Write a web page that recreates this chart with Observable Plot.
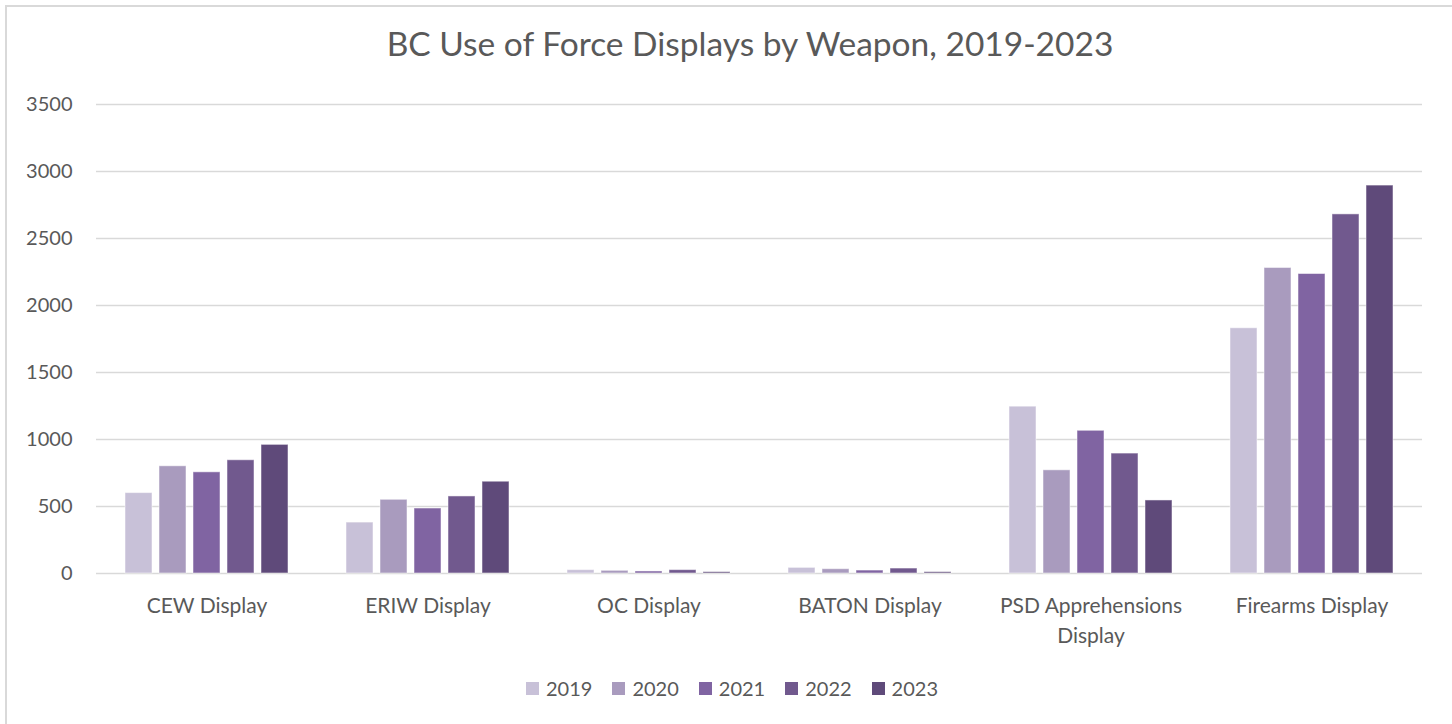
<!DOCTYPE html>
<html>
<head>
<meta charset="utf-8">
<script src="https://cdn.jsdelivr.net/npm/d3@7"></script>
<script src="https://cdn.jsdelivr.net/npm/@observablehq/plot@0.6"></script>
<style>
  html, body { margin: 0; padding: 0; background: #fff; }
  #wrap { position: relative; width: 1452px; height: 724px; overflow: hidden; font-family: Lato, "Open Sans", sans-serif; color: #595959; }
  #frame { position: absolute; left: 5px; top: 5px; width: 1450px; height: 740px; border: 2px solid #d9d9d9; box-sizing: border-box; }
  #title { position: absolute; left: 0; width: 1500px; top: 26px; text-align: center; font-size: 33.5px; line-height: 34px; color: #595959; white-space: nowrap; }
  #chart { position: absolute; left: 0; top: 0; }
  #legend { position: absolute; left: 0; width: 1452px; top: 676px; display: flex; justify-content: center; font-size: 20px; line-height: 24px; padding-left: 12px; box-sizing: border-box; }
  .item { display: flex; align-items: center; margin: 0 10px; }
  .sw { width: 13px; height: 13px; margin-right: 7px; }
</style>
</head>
<body>
<div id="wrap">
  <div id="frame"></div>
  <div id="chart"></div>
  <div id="title">BC Use of Force Displays by Weapon, 2019-2023</div>
  <div id="legend"></div>
</div>
<script>
const categories = ["CEW Display", "ERIW Display", "OC Display", "BATON Display", "PSD Apprehensions Display", "Firearms Display"];
const years = ["2019", "2020", "2021", "2022", "2023"];
const colors = ["#c8c1d8", "#a99bbe", "#8064a2", "#71598e", "#5f4a7a"];
const values2019 = [600, 380, 25, 42, 1245, 1830];
const values2020 = [800, 550, 20, 32, 770, 2280];
const values2021 = [755, 485, 15, 22, 1065, 2235];
const values2022 = [845, 575, 25, 37, 895, 2680];
const values2023 = [960, 685, 10, 10, 545, 2895];
const yTicks = [0, 500, 1000, 1500, 2000, 2500, 3000, 3500];

const series = [values2019, values2020, values2021, values2022, values2023];
const data = [];
categories.forEach((c, i) => {
  years.forEach((y, j) => data.push({category: c, year: y, value: series[j][i]}));
});

const chart = Plot.plot({
  width: 1452,
  height: 724,
  marginLeft: 95,
  marginRight: 30,
  marginTop: 104,
  marginBottom: 151,
  style: {fontFamily: "Lato, 'Open Sans', sans-serif", color: "#595959", background: "transparent"},
  fx: {domain: categories, padding: 0},
  x: {domain: years, paddingInner: 0.2, paddingOuter: 0.85, axis: null},
  y: {domain: [0, 3500]},
  color: {domain: years, range: colors},
  marks: [
    Plot.ruleY(yTicks, {stroke: "#d9d9d9", strokeWidth: 1.5}),
    Plot.barY(data, {fx: "category", x: "year", y: "value", fill: "year", stroke: "#ffffff", strokeOpacity: 0.5, strokeWidth: 1}),
    Plot.axisY(yTicks, {tickSize: 0, tickPadding: 24, fontSize: 20, fill: "#595959", label: null, tickFormat: d3.format("d")}),
    Plot.axisFx({anchor: "bottom", tickSize: 0, tickPadding: 19, fontSize: 21, fill: "#595959", lineWidth: 11, lineHeight: 1.4, label: null})
  ]
});
document.getElementById("chart").appendChild(chart);

const legend = document.getElementById("legend");
years.forEach((y, j) => {
  const item = document.createElement("div");
  item.className = "item";
  const sw = document.createElement("div");
  sw.className = "sw";
  sw.style.background = colors[j];
  const lab = document.createElement("span");
  lab.textContent = y;
  item.appendChild(sw);
  item.appendChild(lab);
  legend.appendChild(item);
});
</script>
</body>
</html>
